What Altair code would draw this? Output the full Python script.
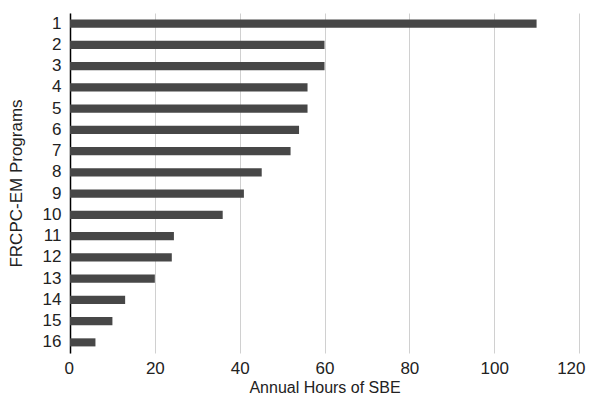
import altair as alt
import pandas as pd

programs = [str(i) for i in range(1, 17)]
hours = [110, 60, 60, 56, 56, 54, 52, 45.2, 41, 36, 24.5, 24, 20, 13, 10, 6]

df = pd.DataFrame({"program": programs, "hours": hours})

chart = alt.Chart(df).mark_bar(color="#474747").encode(
    x=alt.X(
        "hours:Q",
        title="Annual Hours of SBE",
        scale=alt.Scale(domain=[0, 120], nice=False),
        axis=alt.Axis(
            values=[0, 20, 40, 60, 80, 100, 120],
            grid=True,
            gridColor="#d0d0d0",
            gridWidth=1,
            domain=False,
            ticks=False,
            labelFlush=True,
            labelFlushOffset=6,
            labelFontSize=17,
            labelPadding=7,
            labelColor="#222222",
            labelFont="Liberation Sans",
            titleFont="Liberation Sans",
            titleFontSize=16,
            titleFontWeight="normal",
            titleColor="#222222",
            titlePadding=3,
        ),
    ),
    y=alt.Y(
        "program:N",
        sort=programs,
        title="FRCPC-EM Programs",
        scale=alt.Scale(paddingInner=0.62, paddingOuter=0.31),
        axis=alt.Axis(
            domain=True,
            domainColor="#000000",
            domainWidth=1.5,
            ticks=False,
            grid=False,
            labelFontSize=17,
            labelPadding=9,
            labelColor="#222222",
            labelFont="Liberation Sans",
            titleFont="Liberation Sans",
            titleFontSize=17,
            titleFontWeight="normal",
            titleColor="#222222",
            titlePadding=17,
        ),
    ),
).properties(
    width=509,
    height=340,
    autosize=alt.AutoSizeParams(type="none"),
    padding={"left": 62, "top": 5, "right": 9, "bottom": 43},
).configure(
    font="Liberation Sans",
    view=alt.ViewConfig(stroke=None),
)

chart.save("out.html", embed_options={"renderer": "svg", "actions": False})
